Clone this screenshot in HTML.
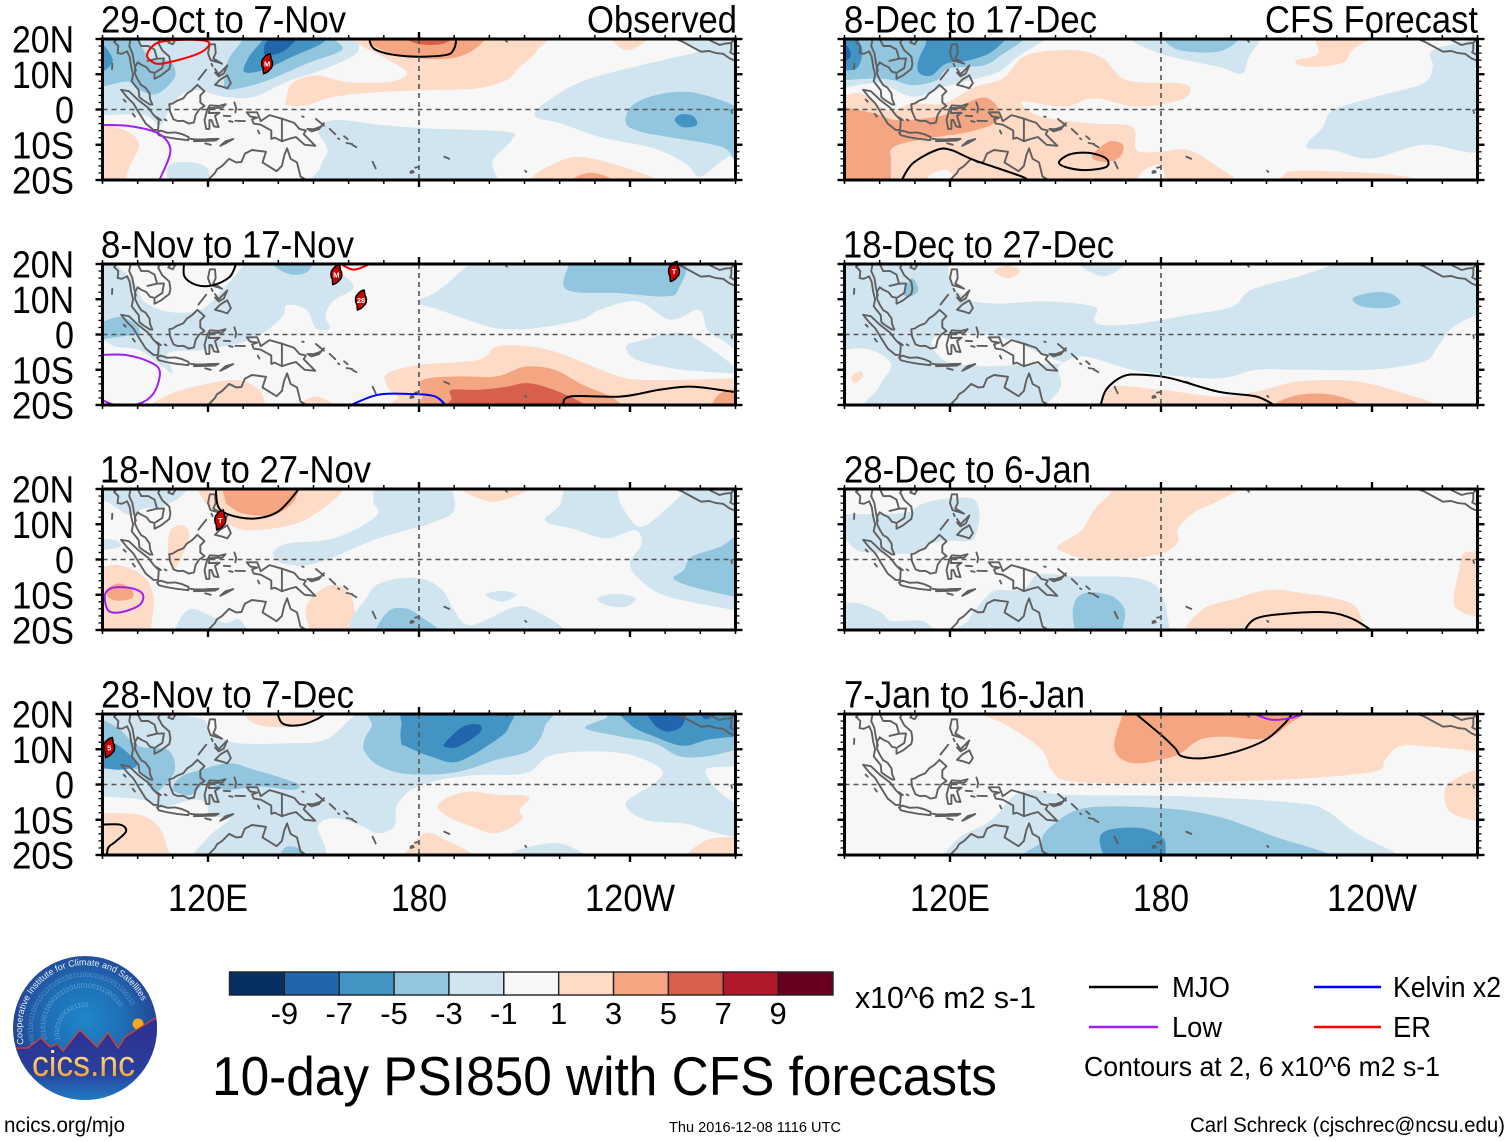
<!DOCTYPE html>
<html lang="en">
<head>
<meta charset="utf-8">
<title>10-day PSI850 with CFS forecasts</title>
<style>
html,body{margin:0;padding:0;background:#fff;width:1510px;height:1142px;overflow:hidden}
svg{display:block}
text{font-family:"Liberation Sans",sans-serif;fill:#000}
</style>
</head>
<body>
<svg id="chart" xmlns="http://www.w3.org/2000/svg" width="1510" height="1142" viewBox="0 0 1510 1142">
<rect width="1510" height="1142" fill="#fff"/>
<g id="panels"></g>

<text x="101" y="32.5" font-size="38" textLength="245" lengthAdjust="spacingAndGlyphs">29-Oct to 7-Nov</text>
<text x="587" y="32.5" font-size="38" textLength="150" lengthAdjust="spacingAndGlyphs">Observed</text>
<text x="101" y="257.5" font-size="38" textLength="253" lengthAdjust="spacingAndGlyphs">8-Nov to 17-Nov</text>
<text x="100" y="482.5" font-size="38" textLength="271" lengthAdjust="spacingAndGlyphs">18-Nov to 27-Nov</text>
<text x="101" y="707.5" font-size="38" textLength="253" lengthAdjust="spacingAndGlyphs">28-Nov to 7-Dec</text>
<text x="844" y="32.5" font-size="38" textLength="253" lengthAdjust="spacingAndGlyphs">8-Dec to 17-Dec</text>
<text x="1265" y="32.5" font-size="38" textLength="213" lengthAdjust="spacingAndGlyphs">CFS Forecast</text>
<text x="843" y="257.5" font-size="38" textLength="271" lengthAdjust="spacingAndGlyphs">18-Dec to 27-Dec</text>
<text x="844" y="482.5" font-size="38" textLength="247" lengthAdjust="spacingAndGlyphs">28-Dec to 6-Jan</text>
<text x="844" y="707.5" font-size="38" textLength="241" lengthAdjust="spacingAndGlyphs">7-Jan to 16-Jan</text>

<g id="colorbar"></g>
<text x="855" y="1008" font-size="31" textLength="181" lengthAdjust="spacingAndGlyphs">x10^6 m2 s-1</text>

<text x="212" y="1095" font-size="55" textLength="785" lengthAdjust="spacingAndGlyphs">10-day PSI850 with CFS forecasts</text>

<g>
  <line x1="1089" x2="1158" y1="987" y2="987" stroke="#000" stroke-width="2.4"/>
  <text x="1172" y="997" font-size="29" textLength="58" lengthAdjust="spacingAndGlyphs">MJO</text>
  <line x1="1314" x2="1381" y1="987" y2="987" stroke="#0000ff" stroke-width="2.4"/>
  <text x="1393" y="997" font-size="29" textLength="108" lengthAdjust="spacingAndGlyphs">Kelvin x2</text>
  <line x1="1089" x2="1158" y1="1027" y2="1027" stroke="#a020f0" stroke-width="2.4"/>
  <text x="1172" y="1037" font-size="29" textLength="50" lengthAdjust="spacingAndGlyphs">Low</text>
  <line x1="1314" x2="1381" y1="1027" y2="1027" stroke="#ff0000" stroke-width="2.4"/>
  <text x="1393" y="1037" font-size="29" textLength="38" lengthAdjust="spacingAndGlyphs">ER</text>
  <text x="1084" y="1076" font-size="28" textLength="356" lengthAdjust="spacingAndGlyphs">Contours at 2, 6 x10^6 m2 s-1</text>
</g>

<g>
  <defs>
    <radialGradient id="skyGrad" cx="85" cy="1020" r="75" gradientUnits="userSpaceOnUse">
      <stop offset="0" stop-color="#1e87c9"/><stop offset="0.55" stop-color="#1f6cb4"/><stop offset="1" stop-color="#25408f"/>
    </radialGradient>
    <linearGradient id="landGrad" x1="0" y1="1030" x2="0" y2="1100" gradientUnits="userSpaceOnUse">
      <stop offset="0" stop-color="#2d3192"/><stop offset="0.6" stop-color="#2a3f9c"/><stop offset="1" stop-color="#1f7cc0"/>
    </linearGradient>
    <linearGradient id="wordGrad" x1="0" y1="1052" x2="0" y2="1078" gradientUnits="userSpaceOnUse">
      <stop offset="0" stop-color="#fbe29a"/><stop offset="1" stop-color="#f0a030"/>
    </linearGradient>
    <clipPath id="logoClip"><circle cx="85" cy="1028" r="72"/></clipPath>
    <path id="logoArc" d="M24 1044 A63 63 0 1 1 148 1028"/>
    <path id="binaryArc1" d="M47 1040 A40 40 0 1 1 123 1040"/>
    <path id="binaryArc2" d="M60 1040 A26 26 0 1 1 110 1040"/>
    <path id="binaryArc3" d="M35 1044 A52 52 0 1 1 135 1042"/>
  </defs>
  <circle cx="85" cy="1028" r="72" fill="url(#skyGrad)"/>
  <g clip-path="url(#logoClip)">
    <text font-size="6.5" style="fill:#7db9e2" opacity="0.75"><textPath href="#binaryArc2">1010100XX01101</textPath></text>
    <text font-size="6.5" style="fill:#7db9e2" opacity="0.7"><textPath href="#binaryArc1">101010011000101110100100111000110</textPath></text>
    <text font-size="6.5" style="fill:#7db9e2" opacity="0.6"><textPath href="#binaryArc3">10011001100010111010010011100011010011100110</textPath></text>
    <circle cx="138" cy="1024" r="5.5" fill="#f5a623"/>
    <path d="M10 1050 L18 1048 L28 1048 L41 1038 L50 1047 L57 1044 L63 1051 L80 1030 L97 1047 L108 1033 L118 1048 L125 1037 L157 1017 L162 1012 L162 1105 L10 1105 Z" fill="url(#landGrad)" stroke="#d9412b" stroke-width="1.3"/>
  </g>
  <text font-size="9" style="fill:#e8f2fa"><textPath href="#logoArc">Cooperative Institute for Climate and Satellites</textPath></text>
  <text x="32" y="1076" font-size="36" textLength="103" lengthAdjust="spacingAndGlyphs" style="fill:url(#wordGrad)">cics.nc</text>
</g>

<text x="4" y="1132" font-size="21.5" textLength="121" lengthAdjust="spacingAndGlyphs">ncics.org/mjo</text>
<text x="669" y="1132" font-size="14.5" textLength="172" lengthAdjust="spacingAndGlyphs">Thu 2016-12-08 1116 UTC</text>
<text x="1190" y="1132" font-size="21.5" textLength="315" lengthAdjust="spacingAndGlyphs">Carl Schreck (cjschrec@ncsu.edu)</text>
</svg>

<script>
// ---------- Chart data: axis ticks ----------
const lonTicks = [120, 180, 240];
const lonTickLabels = ['120E', '180', '120W'];
const latTicks = [20, 10, 0, -10, -20];
const latTickLabels = ['20N', '10N', '0', '10S', '20S'];
const colorbarColors = ['#053061','#2166ac','#4393c3','#92c5de','#d1e5f0','#f7f7f7','#fddbc7','#f4a582','#d6604d','#b2182b','#67001f'];
const colorbarTicks = ['-9','-7','-5','-3','-1','1','3','5','7','9'];

// ---------- Filled PSI850 contours: [value, [lon,lat]...] drawn in order ----------
const fieldOct29 = [
 [-2,[[88,22],[165,22],[162.9,20],[162.2,15.9],[153.4,11.6],[142.5,7.9],[133,3.6],[124.9,3.6],[115.4,5.5],[110,1.7],[106.6,-4.4],[101.8,-1.6],[90,-1.6],[88,-1.6]]],
 [-4,[[88,6.5],[90,6.5],[97.3,7.9],[101.6,5],[105.9,4.6],[110.6,9.3],[109.2,13.6],[103.5,14.5],[100.2,20],[100,22],[88,22]]],
 [-6,[[88,10.7],[90,10.7],[92.6,13],[92.6,15],[90.2,18.3],[88,18.3]]],
 [-4,[[124.9,6],[129,6],[137,8.3],[148,13],[158,16.8],[156,20],[156,22],[130,22],[130,20],[126,14.5],[124.9,10]]],
 [-6,[[130.3,10.7],[135.7,11.2],[144,15],[152.7,19],[152.7,22],[135.7,22],[135.7,20],[131.7,15]]],
 [-8,[[136.4,15.4],[141.2,16.4],[145.2,20],[145.2,22],[137.1,22],[137.1,20],[136,18]]],
 [2,[[142.2,2.6],[143.9,7.4],[150.7,9.7],[158.8,7.9],[166.9,7.6],[173.7,8.3],[176.4,10.7],[169.6,15],[162.9,18.7],[162.9,22],[213,22],[213.7,16.9],[208.3,11.7],[205,8.4],[196.8,6],[183.2,5.5],[169.6,5],[156,3.6],[148,1.2],[142.5,1.2]]],
 [4,[[165.6,22],[165.6,20],[169.6,16.8],[180.5,14.5],[191.4,15],[198,19],[198,22]]],
 [6,[[176.4,22],[176.4,20],[180.5,18.5],[186,18.5],[189.3,20],[189.3,22]]],
 [2,[[234.8,22],[234.8,20],[238.8,16.8],[244,19],[245,22]]],
 [-2,[[212.8,-1.6],[218.9,4],[228.4,8.7],[243.3,12.6],[251.4,14.5],[259.6,16.8],[254,20],[254,22],[272,22],[272,-14.5],[268,-13.4],[260,-19],[256,-15.5],[246.8,-11],[231.4,-7.8],[220.6,-4]]],
 [-4,[[238.9,-4],[240.3,0.8],[247,4],[256.5,5],[266,2.6],[272,0],[274,0],[274,-15],[270,-14.4],[266,-10.6],[251,-7.8],[243,-6.3]]],
 [-6,[[252.7,-3],[254.5,-1.4],[257.9,-1.8],[259,-4.4],[255,-5]]],
 [-2,[[151.3,-5.9],[156,-3],[169.6,-4.4],[183,-5.4],[205,-6.3],[206.3,-8.7],[201,-14.4],[202,-19.1],[202,-22],[153.4,-22],[152,-16.3],[154,-11.5]]],
 [2,[[88,-4.4],[90,-4.4],[96.4,-5.9],[100.4,-9.7],[97.7,-16.3],[95,-22],[88,-22]]],
 [-2,[[108.6,-16.3],[112.7,-14.9],[119.4,-16.3],[120,-22],[110,-22]]],
 [2,[[212.4,-19],[218.5,-15.3],[225.3,-13.4],[234.8,-15.3],[247,-19.6],[248,-22],[212,-22]]],
 [4,[[222.5,-20.5],[228,-18],[233.4,-19],[236,-21],[236,-23],[222.5,-23]]]
];
const fieldNov8 = [
 [-2,[[88,22],[156,22],[156,19],[161.5,13.6],[155.5,9.4],[153.4,5.1],[154.7,1.8],[150.7,1.8],[148,7],[142.5,8.4],[141.2,5.1],[135.7,0.4],[129,-2.5],[118,-4.4],[108.6,-5.3],[110,-11],[105.9,-8.1],[100.4,-4.4],[93.7,-3.4],[90,-1.5],[88,-1.5]]],
 [0,[[93.7,22],[93.7,20],[97.7,16.5],[99.8,13.6],[101.8,9.4],[108.6,6.5],[118,7],[124.9,13.6],[130.3,20],[130.3,22]]],
 [-2,[[196.8,22],[196.8,20],[272,20],[274,20],[274,-4.4],[266,-1.5],[262,1.3],[259.6,7],[251.4,4.2],[242,9.4],[231.4,7],[226,4.2],[212.8,1.8],[202,1.8],[193.8,4.2],[185.7,7],[179.6,9.4],[185.7,12.6]]],
 [-4,[[222.6,22],[222.6,20],[222,12.7],[237.5,11.7],[249.7,10.8],[253.7,12.7],[253.7,22]]],
 [-4,[[139,22],[139,19.3],[143.8,17],[148.5,18],[149.3,22]]],
 [-4,[[88,3.7],[90,3.7],[95,5],[99,3.2],[100.4,0.4],[95,-0.6],[90,-1.3],[88,-1.3]]],
 [-2,[[238.9,-3.4],[244,-1.5],[255,0.4],[264.8,-5.3],[270,-9.1],[274,-9.1],[274,-11],[255,-10],[242,-7.2]]],
 [2,[[171,-11],[180.5,-8.6],[196.8,-7.2],[202.2,-3.4],[211.7,-3.4],[220,-5.3],[229.4,-9],[239,-12.4],[251,-12.9],[270,-12.4],[274,-12.4],[274,-22],[180.5,-22],[173.8,-17.6],[171,-14.7]]],
 [4,[[181,-12.9],[191.4,-11.9],[202,-11.9],[210.3,-9.1],[218.5,-10],[226.6,-14.3],[236,-18.5],[233,-22],[183,-22],[181,-17.6]]],
 [4,[[264.6,-17.6],[268.7,-15.7],[274,-15.7],[274,-22],[264,-22]]],
 [6,[[189.3,-15.7],[196.8,-15.7],[205,-14.8],[210.3,-13.8],[217,-15.2],[226.6,-19.5],[228,-22],[191,-22],[189.3,-18]]],
 [2,[[104.5,-19.5],[112.7,-15.7],[127.6,-12.9],[134.4,-15.7],[136.4,-20],[137,-22],[104,-22]]],
 [2,[[146.6,-19.5],[150.7,-17.6],[156,-20],[156,-22],[146.6,-22]]]
];
const fieldNov18 = [
 [2,[[118.8,16.8],[120.8,22],[158.8,22],[158.8,20],[153.4,15],[145.2,10.2],[133,8.3],[126.3,9.7],[122.2,14]]],
 [4,[[124.9,16.8],[126.3,22],[145.9,22],[145.9,20],[143.9,15.9],[138.4,12.6],[130.3,13],[126.3,15]]],
 [-2,[[88,22],[88,18],[92,16],[97.7,12.6],[101.8,14.5],[107,15],[112.7,18.3],[112.7,22]]],
 [-2,[[88,5.5],[93.7,5.5],[95,3.6],[90,2.6],[88,2.6]]],
 [2,[[108.6,2.6],[109.3,8.3],[112.7,9.7],[114.7,7.4],[113.4,2.6],[110.6,-2.5],[108.9,-0.2]]],
 [2,[[88,-2],[90,-2],[95,-1.6],[101.8,-4.9],[104.5,-10.6],[103.8,-19],[103,-22],[88,-22]]],
 [4,[[91.6,-8.2],[95,-6.8],[98.4,-8.7],[98.4,-11],[94.3,-11.7],[91.6,-10.6]]],
 [-2,[[112,-17],[115.4,-14],[120.8,-16],[124.9,-18],[129,-17],[130,-22],[112,-22]]],
 [2,[[148,-13.4],[154.7,-7.3],[160.8,-10.6],[160.8,-22],[150.7,-22]]],
 [-2,[[164.5,-22],[165.6,-10],[171,-6],[180.5,-5.4],[186.7,-8.7],[190,-14.4],[194.8,-18.6],[207.7,-13.4],[214.5,-15.3],[221.2,-19.6],[222,-22]]],
 [-4,[[168.7,-22],[171,-14.9],[176.4,-13.9],[182,-17.2],[185.3,-19.6],[186,-22]]],
 [-2,[[138.4,1.7],[142.5,4.5],[153.4,5.5],[161.5,8.3],[168.3,13],[167,16.8],[169.6,22],[186.7,22],[190,14],[183.2,10.2],[176.4,8.3],[167,5.5],[156,0.8],[148,-1.6],[141.2,-1.1]]],
 [2,[[191.4,22],[191.4,20],[201,16.4],[211.7,20],[211.7,22]]],
 [-2,[[215.8,11],[220,15.4],[223,22],[234.8,22],[237.5,15.4],[243,9.3],[251,15],[255,19],[255,22],[274,22],[274,-15.3],[270,-14.4],[251,-10.6],[243,-5.9],[240,-1.1],[243.3,4.5],[241.3,8.3],[233.2,6],[223.7,8.7]]],
 [-4,[[255.3,-3],[257.6,0.8],[265.7,3.6],[270,6.4],[274,6.4],[274,-11],[270,-10.6],[257.9,-7.8],[252.4,-5.4]]],
 [-2,[[198.8,-10],[203.6,-8.9],[207.7,-10],[203.6,-12]]],
 [-2,[[230.7,-11],[236,-9.7],[241.6,-11],[238.8,-13.4],[233.4,-13]]]
];
const fieldNov28 = [
 [-2,[[88,22],[274,22],[274,-12.5],[255,-11],[244.3,-10],[238.8,-5.3],[247,0.4],[249,4.2],[240.2,8.4],[228,9.4],[217,8],[210.3,3.2],[196.8,2.7],[186,1.3],[177.8,-1.5],[173.7,-6.2],[173,-11.9],[168.3,-13.8],[162.9,-11.4],[156,-9.6],[151.3,-11.9],[151.3,-22],[118,-22],[119.4,-15.7],[126.2,-9.6],[120.8,-9],[119.4,-5.3],[115.4,-4.4],[105.9,-6.7],[101.8,-4.4],[90,-3.4],[88,-3.4]]],
 [0,[[111,22],[111,20],[118.8,18.4],[120.8,14.6],[129,11.7],[142.5,11.7],[153.4,12.7],[160.2,18.4],[162.2,20],[162,22]]],
 [0,[[261.6,4.2],[270,5.1],[274,5.1],[274,-7],[270,-5.3],[264.8,-1.5]]],
 [2,[[130.3,22],[130.3,20],[134.4,16.9],[145,16.5],[153.4,20],[153.4,22]]],
 [-4,[[164.5,12.7],[166.6,16.5],[169.6,22],[214.5,22],[215.8,16.5],[211.7,9.8],[202,7],[190,3.4],[176.4,3],[168.3,5.5],[164.5,9.4]]],
 [-6,[[175,11.7],[175,16.5],[177.8,22],[204.9,22],[205.6,16.5],[202,12.7],[191,6.5],[183.2,8],[176.4,10.8]]],
 [-8,[[187.3,11.7],[192.7,16.5],[197.2,16.9],[197.2,14.6],[191.4,10.8],[188,10.5]]],
 [-4,[[227.3,16],[233.4,19],[234.8,22],[274,22],[274,10.3],[270,9.8],[262,8],[254,8],[247,11.7],[237.5,13.6]]],
 [-6,[[239.5,22],[240.2,16.9],[247,13.6],[255,11],[262,12.7],[270,13.6],[274,13.6],[274,22]]],
 [-8,[[244.9,22],[247,16.9],[251,15],[255,16.9],[255,22]]],
 [-8,[[260,22],[260,20],[261.5,18.5],[263.4,19.5],[263.4,22]]],
 [-4,[[88,18.4],[90,18.4],[95,15.5],[100.4,10.8],[108.6,9.8],[110.6,4.2],[107.2,-0.6],[104.5,-2],[101.8,2.3],[99,4.5],[90,4.3],[88,4.3]]],
 [-6,[[88,12.7],[90,12.7],[95,10.8],[99.8,5.6],[95,4.2],[90,4.7],[88,4.7]]],
 [-4,[[110,-1.5],[112,2],[118,4.2],[126.2,6],[133,4.2],[141.2,1.8],[146,-0.1],[143.9,-1.5],[134.4,-0.6],[125,-1.5],[119.4,0.4],[115,-3]]],
 [-4,[[140.5,-22],[140.5,-20],[142.5,-17.6],[146.6,-18.5],[148,-22]]],
 [2,[[185.3,-6.2],[188.7,-3.4],[194.8,-2],[202,-2.9],[211.3,-3.4],[208.6,-7.2],[209.3,-10],[202,-13.8],[194.8,-11.9],[188,-9]]],
 [2,[[88,-8.1],[90,-8.1],[100.4,-8.6],[105.9,-11.9],[108.6,-18.5],[108.6,-22],[88,-22]]],
 [2,[[175.6,-20],[181.8,-13.8],[187.3,-15.7],[194.8,-19.5],[195,-22],[175,-22]]],
 [-2,[[205,-20],[211.7,-17.6],[220,-16.7],[227.3,-20],[227,-22],[205,-22]]],
 [2,[[255.8,-20],[262,-15.7],[270,-14.8],[274,-14.8],[274,-22],[255,-22]]]
];
const fieldDec8 = [
 [-2,[[88,6.3],[90.4,6.3],[99.9,7.4],[109.4,3.6],[118.2,6.4],[125.7,8.3],[133.8,10.7],[139.3,15],[144.6,18.3],[147.4,20],[147.4,22],[88,22]]],
 [-4,[[88,8.3],[90,8.3],[98.5,8.8],[104,8.3],[109.4,6.9],[116.2,8.3],[119.6,11.6],[129.8,12.6],[135.2,15.9],[141.3,20],[141.3,22],[88,22]]],
 [-6,[[88,11],[90,11],[93.8,12],[95.1,16.8],[93.8,20],[93.8,22],[88,22]]],
 [-8,[[88,14],[91,14.2],[91.7,16],[90.6,18],[88,18]]],
 [-6,[[110.8,13],[112.8,17.8],[116.2,22],[135.2,22],[132.5,16.8],[125.7,14],[118.9,13],[114.8,9.7],[111.4,10.2]]],
 [2,[[88,4],[90,4],[95,4.5],[102.4,-0.2],[109.4,1.7],[118.2,1.7],[127,6.4],[135,8.8],[141.8,15.4],[155.4,16.8],[163.5,14.5],[170.3,8.3],[185.3,7.4],[188.4,5.5],[185.3,2.6],[173.1,0.8],[160.9,3.2],[152.7,0.8],[140.5,2.2],[145.9,-2],[160.9,-4],[171.8,-4.9],[173.1,-11.5],[179.8,-12],[188,-11.5],[196.2,-16.3],[201.6,-20],[202,-22],[88,-22]]],
 [0,[[173,-20],[176,-16.7],[180,-15.8],[181,-19],[180,-22],[173,-22]]],
 [0,[[114,-19],[117.5,-17.2],[120,-17.7],[122,-22],[114,-22]]],
 [2,[[215,-18.6],[219.3,-17.4],[239.7,-18],[252,-19.6],[252,-22],[215,-22]]],
 [2,[[218.6,14],[224.7,15.9],[224.7,22],[241,22],[234.3,16.8],[232.2,13.5],[224.7,12.1],[219.3,12.6]]],
 [-2,[[171.8,22],[171.8,20],[173.1,18.7],[181.3,15.4],[196.2,12.1],[203,10.2],[205,14.9],[208.4,20],[208.4,22]]],
 [-4,[[180.6,22],[180.6,20],[185.4,16.8],[196.2,16.4],[202,19.7],[202,22]]],
 [-2,[[221.3,-10.6],[226,-5],[229,-0.2],[241,3.6],[254.6,7.4],[257.3,12.1],[257.3,16.8],[269.5,20],[274,22],[274,-10],[254.6,-10],[239.7,-13.9],[229,-11.5]]],
 [4,[[88,0.6],[90,0.6],[98.5,-1.1],[105.3,-3],[118.2,-1.6],[124.3,1.7],[129.8,3.4],[133.4,0.8],[133.2,-3.5],[125.7,-6.3],[113.5,-8.2],[104,-10.6],[103.2,-14.4],[103.2,-19.6],[103,-22],[88,-22]]],
 [4,[[160.3,-13.4],[165,-9.2],[169.1,-10],[168.4,-13.4],[164.4,-14.9]]]
];
const fieldDec18 = [
 [-2,[[88,22],[119.6,22],[119.6,20],[120.3,14.6],[125.7,9.8],[133.8,8.8],[147.4,9.4],[161,7.9],[161,4.2],[163.7,2.7],[174.5,3.2],[188.1,5.6],[200.3,7.9],[205.7,12.7],[219.3,16.5],[228.8,20],[228.8,22],[274,22],[274,6.5],[269.8,5.6],[262.7,1.8],[258.7,-3.4],[254.6,-7.7],[239.7,-10],[219.3,-10],[207.1,-10],[197.6,-12.4],[185.4,-11.9],[171.8,-10],[158.3,-6.2],[152.8,-7.7],[150.8,-9.6],[151.5,-14.8],[147.4,-20],[147,-22],[99.2,-22],[99.9,-14.8],[103.3,-9],[99.9,-5.3],[94.5,-3.9],[90,-4.4],[88,-4.4]]],
 [0,[[114.8,-2],[118.9,0.4],[133.8,-0.6],[147.4,-6.2],[151.5,-8.1],[140.6,-8.6],[129.8,-9],[120.3,-8.1],[116.2,-5.3]]],
 [-2,[[156.2,22],[156.2,20],[163.7,16.5],[169.8,20],[169.8,22]]],
 [-4,[[234.6,10.3],[239.7,11.9],[245.1,11.7],[248.1,9],[243.7,7.5],[236.9,8]]],
 [-4,[[106.7,11.7],[109.1,16],[111,12.7],[108.7,10.8]]],
 [2,[[132.5,18],[136.5,19.6],[140,18],[136.5,15.9]]],
 [2,[[92,-11.9],[94.5,-10.5],[95.2,-11.9],[93.1,-13.8]]],
 [2,[[163,-20],[166.4,-14.8],[180,-15.7],[196.2,-17.6],[207.1,-16.2],[219.3,-13.3],[235.6,-13.3],[249.1,-16.7],[258.7,-20],[258.7,-22],[163,-22]]],
 [4,[[211.8,-20],[219.3,-17.1],[228.8,-17.1],[237,-20],[237,-22],[211.8,-22]]]
];
const fieldDec28 = [
 [-2,[[88,12.9],[90,12.9],[99.5,12.9],[108,13.4],[111.8,15.7],[118.4,17.2],[126.5,17.2],[128.4,12.9],[127.4,7.2],[125.5,5.3],[119.4,5.3],[114.6,4.4],[110.9,2],[105.2,1.6],[98.5,2],[93.8,2.5],[90,5.8],[88,5.8]]],
 [-2,[[88,-12.2],[90,-12.2],[94.7,-12.6],[100.4,-15],[103.3,-17.4],[111.8,-17.4],[115.1,-19.7],[116,-22],[88,-22]]],
 [-2,[[125.5,-22],[125.5,-16.9],[128.9,-12.2],[132.7,-8.8],[138.3,-8.8],[142.1,-7.4],[145.4,-4.1],[156.3,-4.8],[170.6,-5],[178.1,-7],[181,-12.2],[182.4,-19.7],[182.5,-22]]],
 [-4,[[154.9,-14.5],[156.3,-10.7],[160.1,-9.3],[165.8,-10.3],[169.1,-13.1],[169.8,-15.9],[169.1,-19.7],[169,-22],[157,-22],[155.5,-19.7]]],
 [2,[[150.7,3.9],[157.3,8.2],[161.1,14.3],[165.8,19],[166.5,22],[202.3,22],[202.3,20],[194.8,15.9],[189.5,13.4],[184.8,8.7],[184.8,4.9],[180,1.6],[168.7,0],[159.2,0],[152.6,2]]],
 [2,[[190.8,-22],[191.5,-14.4],[201.6,-11],[209.8,-8.7],[218,-9.2],[234.2,-12.5],[237.6,-20],[237.6,-22]]],
 [2,[[263.4,-13],[264.8,-3],[266.1,1.7],[269.8,2.2],[274,2.2],[274,-16],[269.8,-16.3]]]
];
const fieldJan7 = [
 [2,[[129.1,22],[129.1,20],[136.6,16.5],[146.1,9.8],[148.8,4.2],[154.2,0.9],[174.5,0.4],[201.6,0.9],[222,1.8],[241,3.7],[243.7,7],[247.8,10.8],[256,10.8],[269.8,9.4],[274,9],[274,22]]],
 [4,[[169.1,22],[169.1,20],[166.7,11.7],[168.4,7.5],[173.1,6],[179.9,7],[185.4,8.8],[190.8,12.6],[197.6,13.6],[209.8,13],[216.6,17.3],[220.7,20],[220.7,22]]],
 [2,[[260.7,-4.4],[261.4,-0.1],[266.8,3.2],[269.8,4.2],[274,4.2],[274,-11],[269.8,-10.5],[262.7,-8.1]]],
 [-2,[[118.2,-20],[123,-14.8],[129.8,-11.4],[133.8,-8.1],[137.9,-3.4],[143.3,-1.5],[152.8,-2.9],[188.1,-3.4],[219.3,-5.3],[227.4,-7.7],[235.6,-13.8],[247.8,-20],[247.8,-22],[118.2,-22]]],
 [-4,[[146,-16.2],[148.8,-11.9],[158.3,-6.7],[179.9,-6.7],[196.2,-9.1],[212.5,-14.8],[228.8,-20],[228.8,-22],[147.4,-22]]],
 [-6,[[162.6,-16.2],[165,-12.9],[174.5,-12.4],[180.6,-15.2],[181.3,-20],[181.3,-22],[166.4,-22]]]
];

// ---------- Wave contours: [kind, closed, [lon,lat]...] ----------
const linesOct29 = [
 ['er',true,[[102.8,16],[105.4,18.8],[110.6,19.7],[119.2,19.5],[120,17.8],[116.3,15.5],[106.8,13],[103.5,14]]],
 ['low',false,[[89,-4.4],[97.7,-4.7],[105.9,-6.8],[109.3,-11.5],[106.6,-19.1],[105.5,-21]]],
 ['mjo',false,[[165.6,21],[167.6,17],[176.4,15.1],[187.3,15.4],[190,17.3],[190.7,21]]]
];
const linesNov8 = [
 ['mjo',false,[[113.3,21],[113.3,16.5],[116.8,14],[121.5,14],[126.3,16.5],[128.3,21]]],
 ['er',false,[[157,20.5],[161.5,18.4],[167,20.5]]],
 ['low',false,[[89,-5.8],[96.4,-5.8],[103.2,-7.7],[106.3,-10.5],[104.5,-16.7],[99.8,-19.8],[93,-19.8],[89,-18]]],
 ['kelvin',false,[[159.5,-20.5],[168.3,-17.1],[178,-16.9],[184.6,-17.6],[188,-20.5]]],
 ['mjo',false,[[221,-20.5],[223,-17.6],[237.5,-17.6],[248.4,-15.7],[257.8,-14.8],[271,-16.5]]]
];
const linesNov18 = [
 ['low',true,[[90.7,-10],[93,-8],[98.4,-8.2],[101.5,-10],[100.4,-13],[95,-15],[91.6,-14.4]]],
 ['mjo',false,[[122.2,21],[122.9,15],[126.3,12.6],[133,11.6],[139.8,13.5],[145.2,19.2],[146,21]]]
];
const linesNov28 = [
 ['mjo',false,[[139.5,21],[141.2,17.3],[146,16.8],[150.7,18.4],[154,20.5]]],
 ['mjo',false,[[89,-11.4],[95,-11.4],[96.7,-13.3],[93.7,-16.2],[91.6,-18],[91.2,-21]]]
];
const linesDec8 = [
 ['mjo',false,[[106,-20.5],[109.4,-15.3],[116.2,-11.5],[120.3,-11.5],[127,-14.4],[140.6,-19.1],[142,-20.5]]],
 ['mjo',true,[[151,-14.9],[154.1,-12.7],[159.6,-12.3],[164.4,-13.9],[164.4,-16.3],[158.3,-17.2],[152.8,-16.3]]]
];
const linesDec18 = [
 ['mjo',false,[[162.6,-21],[164.4,-15.7],[169.1,-11.9],[174.5,-11.4],[182.7,-12.4],[196.2,-16.2],[207.1,-17.6],[213,-20.5]]]
];
const linesDec28 = [
 ['mjo',false,[[203.5,-20.5],[207.1,-16.7],[216.6,-15.3],[227.4,-15],[234.2,-16.7],[240,-20.2]]]
];
const linesJan7 = [
 ['mjo',false,[[172.3,20.5],[180,14.1],[184,10.3],[186,8],[192.2,7.5],[201.6,9.4],[209.8,12.7],[215.2,17.4],[217.6,20.5]]],
 ['low',false,[[205.5,20.5],[211.2,18.4],[216.6,18.8],[222,20.5]]]
];

// ---------- Tropical cyclones: [lon, lat, label] ----------
const stormsOct29 = [[136.8,13,'M']];
const stormsNov8 = [[156.5,17,'M'],[163.5,9.8,'28'],[252.5,17.9,'T']];
const stormsNov18 = [[123.5,11.2,'T']];
const stormsNov28 = [[91.9,10.5,'5']];

// ---------- Coastlines: [lon,lat] polylines ----------
const coastlines = [
 [[93.3,19.2],[94.5,18],[94.3,16],[95.5,15.8],[97,16.5],[97.7,15],[98.2,12],[98.7,10],[98.3,8],[99.5,6.5],[100.3,5.5],[100.5,3.5],[101.5,2.7],[103.5,1.4],[104.2,1.4],[103.5,3],[103.4,4.5],[102.2,6.2],[101,6.9],[100,8.5],[99.3,10],[99.2,12],[100,13.4],[101,12.7],[102.5,12],[103.5,10.7],[104.8,10.4],[104.8,8.7],[106.5,9.6],[109,11.5],[109.3,13],[109,15],[107,16.8],[105.8,19],[106.5,20]],
 [[94.2,20],[93.3,19.2]],
 [[98,20],[97.6,18],[98.5,16],[99,13],[99.5,11]],
 [[100,20],[101,18],[103,18],[104.8,17],[105.5,14.5]],
 [[102.8,13.8],[105.5,14.4],[107.5,14.5],[107,11.8],[105.2,10.6]],
 [[108.7,19],[110,18.5],[110.8,19.9],[109.2,19.8],[108.7,19]],
 [[95.3,5.6],[97.5,5.2],[100,2.8],[103,0.5],[104.5,-1.5],[106,-3],[105.8,-5.8],[104.5,-5.8],[102.3,-4],[100.4,-1],[98.8,1.7],[97,3.5],[95.3,5.6]],
 [[96,2.8],[96.6,2.2]],
 [[98.6,-1.2],[99.2,-2]],
 [[105.5,-2.2],[106.6,-3]],
 [[107.7,-2.8],[108.2,-3.1]],
 [[105.5,-6.5],[106.5,-6],[108.5,-6.6],[110.7,-6.5],[112.7,-7],[114.5,-7.8],[114.4,-8.7],[111,-8.3],[108,-7.8],[106,-7.3],[105.5,-6.5]],
 [[115,-8.3],[116.5,-8.5],[119,-8.5],[120,-8.4],[123,-8.3],[122,-8.8],[119,-8.9],[116,-9]],
 [[123.5,-10.3],[125,-9],[127.2,-8.4],[125,-9.6],[123.5,-10.3]],
 [[119.2,-9.6],[120.8,-10]],
 [[109,1.5],[110,1.7],[111.2,2.5],[113,3.2],[114,4.5],[115.5,5.5],[117,7],[119,5.2],[117.8,4],[117.8,2],[119,1],[117.5,0],[116.5,-1.5],[116,-3.7],[114.5,-4],[113,-3.2],[111.5,-3.3],[110.2,-2.8],[109.2,-0.5],[109,1.5]],
 [[119.5,-5.5],[119,-3],[119.8,0],[120.5,1.2],[123,1],[125,1.5],[124,0.5],[120.5,0.4],[120.2,-1],[121.5,-1],[123.3,-0.9],[122,-1.8],[122.5,-3.5],[123,-5],[121.7,-4.8],[121,-3],[120.4,-3],[120.4,-5.5],[119.5,-5.5]],
 [[127.5,2],[128,0.5],[127.8,-0.8]],
 [[127.8,-3.2],[130.5,-3.3]],
 [[126,-3.3],[127,-3.5]],
 [[124.5,-1.8],[126.3,-1.9]],
 [[134.2,-6],[134.6,-6.8]],
 [[131,-0.8],[134,-0.8],[135,-3.3],[137.5,-1.6],[141,-2.6],[144.5,-3.8],[146,-5.5],[147.8,-6],[147.2,-7],[150.5,-10.3],[147.5,-10],[145,-7.8],[143.5,-8.2],[141,-9],[139,-8],[138,-8.3],[138,-6],[135,-4.3],[133,-4],[132.5,-2.8],[134,-2.3],[132,-2],[131,-0.8]],
 [[141,-2.6],[141,-9]],
 [[148.3,-5.5],[150,-5.6],[152,-4.9],[153,-3.9],[151.5,-5.6],[149.5,-6.2],[148.3,-5.5]],
 [[150.7,-2.7],[153,-4.6]],
 [[146.8,-2],[147.2,-2.1]],
 [[154.6,-5.5],[156.2,-7]],
 [[157,-8.2],[157.3,-8.4]],
 [[158.7,-7.6],[159.7,-8.4]],
 [[159.4,-9.5],[161,-9.8]],
 [[161,-10],[162.2,-10.7]],
 [[166.8,-14.8],[167.7,-16.7]],
 [[177.6,-18],[178.5,-17.8],[178.2,-17.4],[177.6,-17.6],[177.6,-18]],
 [[178.9,-16.5],[179.9,-16.3]],
 [[187.2,-13.4],[188.6,-14]],
 [[210.2,-17.4],[210.5,-17.7]],
 [[204.5,19.8],[205,19.2]],
 [[268.8,-0.2],[269,-1]],
 [[92.8,13],[92.7,11.5]],
 [[120,-20],[122,-18],[122.5,-17],[124,-16],[126,-14],[128,-15],[129.5,-14.9],[130.5,-12.5],[132.5,-11.5],[136.5,-12],[135.5,-15],[139.5,-17.5],[141,-16],[141.7,-13],[142.5,-11],[143.5,-14],[145.3,-15],[146.3,-19],[148,-20]],
 [[120.5,18.5],[122,18.5],[122.2,16],[121.5,14.5],[124,13],[122.5,13.5],[120.7,14],[120,16],[120.5,18.5]],
 [[122,7],[123.5,8.5],[125.5,9.7],[126.5,7.5],[125.5,6],[124,6.5],[122,7]],
 [[122,11.5],[123,10],[124.5,11.5],[125.5,12.5],[124.5,10.2],[123,9.4],[122,10.5]],
 [[121,13],[121.3,12.3]],
 [[117.3,8.5],[119.5,11.3]],
 [[253,20],[255,19.2],[258,17.6],[260.2,16.4],[262.5,16.6],[264.5,16],[266.5,15.8],[268.3,14.5],[270,13.8]],
 [[262,20],[263.6,19.2],[265.5,18.3],[267,18.7],[268.8,18.9],[269.8,20]],
 [[268.8,18.9],[268.8,16.9],[268.5,16.2],[269.6,15.6]]
];

// ---------- Which data goes in which panel ----------
const panelFields = [fieldOct29, fieldNov8, fieldNov18, fieldNov28, fieldDec8, fieldDec18, fieldDec28, fieldJan7];
const panelLines = [linesOct29, linesNov8, linesNov18, linesNov28, linesDec8, linesDec18, linesDec28, linesJan7];
const panelStorms = [stormsOct29, stormsNov8, stormsNov18, stormsNov28, [], [], [], []];

// ---------- Rendering ----------
const NS = 'http://www.w3.org/2000/svg';
const colLeft = [102.5, 844.5];
const rowTop = [39, 264, 489, 714];
const pxPerLon = 633 / 180;
const pxPerLat = 141 / 40;
const root = document.getElementById('panels');

function make(tag, attrs, parent) {
  const el = document.createElementNS(NS, tag);
  for (const k in attrs) el.setAttribute(k, attrs[k]);
  if (parent) parent.appendChild(el);
  return el;
}
function lonScale(x0, lon) { return x0 + (lon - 90) * pxPerLon; }
function latScale(y0, lat) { return y0 + (20 - lat) * pxPerLat; }
function fieldColor(v) {
  const map = {'-8':'#2166ac','-6':'#4393c3','-4':'#92c5de','-2':'#d1e5f0','0':'#f7f7f7','2':'#fddbc7','4':'#f4a582','6':'#d6604d','8':'#b2182b'};
  return map[String(v)];
}
function smoothPath(p, closed) {
  const n = p.length;
  const at = i => closed ? p[(i + n) % n] : p[Math.max(0, Math.min(n - 1, i))];
  let d = 'M' + p[0][0].toFixed(1) + ' ' + p[0][1].toFixed(1);
  const segs = closed ? n : n - 1;
  for (let i = 0; i < segs; i++) {
    const a = at(i - 1), b = at(i), c = at(i + 1), e = at(i + 2);
    d += 'C' + (b[0] + (c[0] - a[0]) / 6).toFixed(1) + ' ' + (b[1] + (c[1] - a[1]) / 6).toFixed(1) + ' '
      + (c[0] - (e[0] - b[0]) / 6).toFixed(1) + ' ' + (c[1] - (e[1] - b[1]) / 6).toFixed(1) + ' '
      + c[0].toFixed(1) + ' ' + c[1].toFixed(1);
  }
  return d + (closed ? 'Z' : '');
}
const lineColors = {mjo:'#000000', kelvin:'#0000ff', low:'#a020f0', er:'#ff0000'};

panelFields.forEach(function (field, idx) {
  const col = idx < 4 ? 0 : 1;
  const x0 = colLeft[col];
  const y0 = rowTop[idx % 4];
  const w = 180 * pxPerLon, h = 40 * pxPerLat;
  const X = lon => lonScale(x0, lon);
  const Y = lat => latScale(y0, lat);
  const g = make('g', {}, root);
  
  

  const defs = make('defs', {}, g);
  const cp = make('clipPath', {id: 'clip' + idx}, defs);
  make('rect', {x: x0, y: y0, width: w, height: h}, cp);

  const bg = make('rect', {x: x0, y: y0, width: w, height: h, fill: '#f7f7f7'}, g);
  
  

  const clip = make('g', {'clip-path': 'url(#clip' + idx + ')'}, g);
  field.forEach(function (shape) {
    const pts = shape[1].map(q => [X(q[0]), Y(q[1])]);
    const path = make('path', {d: smoothPath(pts, true), fill: fieldColor(shape[0])}, clip);
    
    
  });

  coastlines.forEach(function (c) {
    const pts = c.map(q => X(q[0]).toFixed(1) + ',' + Y(q[1]).toFixed(1)).join(' ');
    const pl = make('polyline', {points: pts, fill: 'none', stroke: '#5f5f5f', 'stroke-width': 1.9, 'stroke-linejoin': 'round', 'stroke-linecap': 'round'}, clip);
    
    
  });

  const eq = make('line', {x1: x0, x2: x0 + w, y1: Y(0), y2: Y(0), stroke: '#555', 'stroke-width': 1.6, 'stroke-dasharray': '5 4'}, g);
  
  
  const dl = make('line', {x1: X(180), x2: X(180), y1: y0, y2: y0 + h, stroke: '#555', 'stroke-width': 1.6, 'stroke-dasharray': '5 4'}, g);
  
  

  panelLines[idx].forEach(function (ln) {
    const pts = ln[2].map(q => [X(q[0]), Y(q[1])]);
    const path = make('path', {d: smoothPath(pts, ln[1]), fill: 'none', stroke: lineColors[ln[0]], 'stroke-width': 2}, clip);
    
    
  });

  panelStorms[idx].forEach(function (s) {
    const m = make('g', {transform: 'translate(' + X(s[0]).toFixed(1) + ' ' + Y(s[1]).toFixed(1) + ')'}, g);
    
    
    make('path', {d: 'M3 -10 C-1 -9 -2.5 -7 -3.5 -5.5 C-6 -3.5 -6 2 -4 4.5 C-4 7 -4 8.5 -3.5 10 C0 9 2 7 3 5.5 C6 3.5 6 -2 4 -4.5 C4 -7 3.5 -8.5 3 -10Z', fill: '#cc0000', stroke: '#000', 'stroke-width': 1.5}, m);
    const t = make('text', {x: 0, y: 2.8, 'text-anchor': 'middle', 'font-size': 7.5, 'font-weight': 'bold', style: 'fill:#fff'}, m);
    t.textContent = s[2];
  });

  // frame and ticks
  const ax = make('g', {stroke: '#000', fill: 'none'}, g);
  
  
  make('rect', {x: x0, y: y0, width: w, height: h, 'stroke-width': 3}, ax);
  for (let lon = 90; lon <= 270; lon += 10) {
    const major = lonTicks.includes(lon);
    const len = major ? 7 : 4;
    const sw = major ? 2.4 : 1.5;
    make('line', {x1: X(lon), x2: X(lon), y1: y0, y2: y0 - len, 'stroke-width': sw}, ax);
    make('line', {x1: X(lon), x2: X(lon), y1: y0 + h, y2: y0 + h + len, 'stroke-width': sw}, ax);
  }
  for (let lat = -20; lat <= 20; lat += 2) {
    const major = latTicks.includes(lat);
    const len = major ? 7 : 4;
    const sw = major ? 2.4 : 1.3;
    make('line', {x1: x0, x2: x0 - len, y1: Y(lat), y2: Y(lat), 'stroke-width': sw}, ax);
    make('line', {x1: x0 + w, x2: x0 + w + len, y1: Y(lat), y2: Y(lat), 'stroke-width': sw}, ax);
  }

  if (col === 0) {
    latTicks.forEach(function (lat, i) {
      const t = make('text', {x: 74, y: Y(lat) + 13.5, 'text-anchor': 'end', 'font-size': 38}, g);
      
      
      t.setAttribute('textLength', latTickLabels[i] === '0' ? 19 : 62);
      t.setAttribute('lengthAdjust', 'spacingAndGlyphs');
      t.textContent = latTickLabels[i];
    });
  }
  if (idx % 4 === 3) {
    lonTicks.forEach(function (lon, i) {
      const t = make('text', {x: X(lon), y: 911, 'text-anchor': 'middle', 'font-size': 38}, g);
      
      
      t.setAttribute('textLength', [80, 56, 90][i]);
      t.setAttribute('lengthAdjust', 'spacingAndGlyphs');
      t.textContent = lonTickLabels[i];
    });
  }
});

// colorbar
(function () {
  const cb = document.getElementById('colorbar');
  const left = 229.5, width = 603.5, top = 972, height = 23;
  const step = width / colorbarColors.length;
  colorbarColors.forEach(function (c, i) {
    const r = make('rect', {x: left + i * step, y: top, width: step, height: height, fill: c, stroke: '#222', 'stroke-width': 1.4}, cb);
    
    
  });
  colorbarTicks.forEach(function (lab, i) {
    const t = make('text', {x: left + (i + 1) * step, y: 1024, 'text-anchor': 'middle', 'font-size': 31}, cb);
    
    
    t.textContent = lab;
  });
})();
</script>
</body>
</html>
